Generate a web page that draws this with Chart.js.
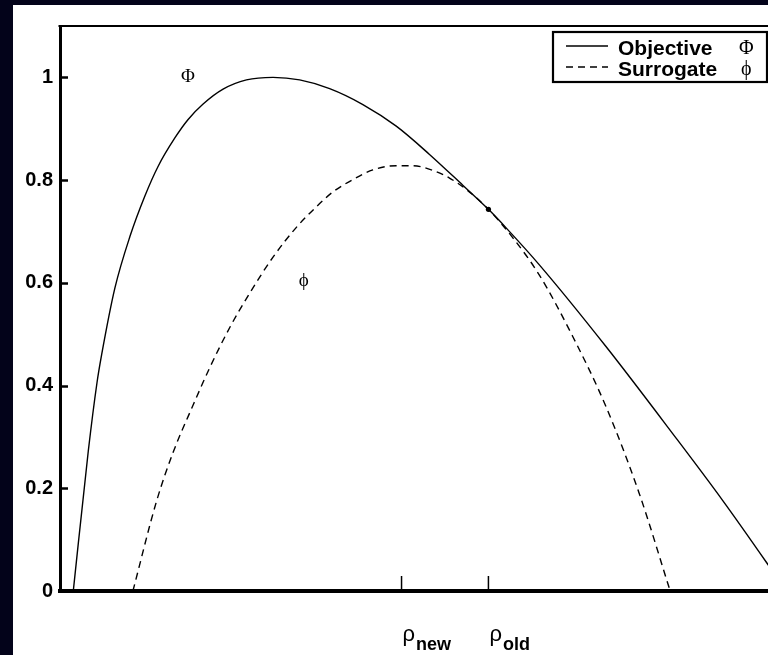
<!DOCTYPE html>
<html><head><meta charset="utf-8">
<script src="https://cdn.jsdelivr.net/npm/chart.js@4"></script>
<style>
html,body{margin:0;padding:0;background:#03031a;overflow:hidden;width:768px;height:655px;}
#wrap{position:absolute;left:13px;top:5px;width:755px;height:650px;background:#fff;overflow:hidden;}
#c{display:block;}
</style></head><body>
<div id="wrap"><canvas id="c" width="800" height="650" style="width:800px;height:650px"></canvas></div>
<script>
// ---- data ----
const objectiveRho = [0.133, 0.283, 0.37, 0.417, 0.55, 0.70, 0.85, 0.983, 1.15, 1.283, 1.433, 1.633, 1.867, 2.133, 2.40, 2.70, 3.033, 3.367, 3.70, 4.033, 4.29, 4.467, 4.80, 5.467, 6.133, 6.633, 7.08, 7.27];
const objectiveVal = [0, 0.272, 0.405, 0.46, 0.590, 0.690, 0.769, 0.827, 0.882, 0.918, 0.948, 0.977, 0.995, 1.0, 0.995, 0.978, 0.947, 0.905, 0.850, 0.790, 0.743, 0.707, 0.635, 0.476, 0.307, 0.177, 0.054, 0];
const surrogateRho = [0.73, 0.967, 1.133, 1.333, 1.50, 1.70, 1.90, 2.133, 2.367, 2.567, 2.733, 2.933, 3.133, 3.367, 3.533, 3.733, 3.90, 4.067, 4.29, 4.533, 4.80, 5.133, 5.467, 5.80, 6.11];
const surrogateVal = [0, 0.175, 0.270, 0.362, 0.435, 0.513, 0.580, 0.650, 0.708, 0.748, 0.777, 0.801, 0.820, 0.828, 0.828, 0.819, 0.804, 0.782, 0.743, 0.688, 0.615, 0.496, 0.359, 0.190, 0];
const touchRho = [4.29];
const touchVal = [0.743];
const xTickValues = [3.42, 4.29];
const xTickMain = ['ρ', 'ρ'];
const xTickSub = ['new', 'old'];
const yTickValues = [0, 0.2, 0.4, 0.6, 0.8, 1];
const legendLabels = ['Objective', 'Surrogate'];
const legendSymbols = ['Φ', 'ϕ'];
const curveLabels = ['Φ', 'ϕ'];
const curveLabelRho = [1.28, 2.44];
const curveLabelVal = [1.0, 0.604];
const xMin = 0, xMax = 7.5, yMin = 0, yMax = 1.1;

const SANS = '"Liberation Sans", Arial, Helvetica, sans-serif';
const SERIF = '"Liberation Serif", "DejaVu Serif", "Times New Roman", serif';

const toPts = (xs, ys) => xs.map((x, i) => ({x: x, y: ys[i]}));

const decorPlugin = {
  id: 'decor',
  afterDraw(chart) {
    const ctx = chart.ctx, a = chart.chartArea;
    const xs = chart.scales.x, ys = chart.scales.y;
    ctx.save();
    ctx.strokeStyle = '#000';
    ctx.fillStyle = '#000';
    // top border of axes box
    ctx.lineWidth = 2;
    ctx.beginPath(); ctx.moveTo(a.left - 1.5, a.top); ctx.lineTo(chart.width, a.top); ctx.stroke();
    // inward y ticks
    ctx.lineWidth = 2.5;
    yTickValues.forEach(v => {
      const y = Math.round(ys.getPixelForValue(v)) + 0.5;
      ctx.beginPath(); ctx.moveTo(a.left, y); ctx.lineTo(a.left + 8, y); ctx.stroke();
    });
    // inward x ticks
    ctx.lineWidth = 1.5;
    xTickValues.forEach(v => {
      const x = xs.getPixelForValue(v);
      ctx.beginPath(); ctx.moveTo(x, a.bottom); ctx.lineTo(x, a.bottom - 15); ctx.stroke();
    });
    // x tick labels with subscripts
    xTickValues.forEach((v, i) => {
      const x = xs.getPixelForValue(v);
      ctx.textAlign = 'left'; ctx.textBaseline = 'alphabetic';
      ctx.font = '22px ' + SANS;
      ctx.fillText(xTickMain[i], x + 1, a.bottom + 50);
      const w = ctx.measureText(xTickMain[i]).width;
      ctx.font = 'bold 18px ' + SANS;
      ctx.fillText(xTickSub[i], x + 1 + w + 1, a.bottom + 59);
    });
    // curve labels
    ctx.textAlign = 'center'; ctx.textBaseline = 'middle';
    ctx.font = '19px ' + SERIF;
    curveLabels.forEach((t, i) => {
      ctx.fillText(t, xs.getPixelForValue(curveLabelRho[i]), ys.getPixelForValue(curveLabelVal[i]));
    });
    // legend
    const L = 540, T = 27, R = 754, B = 77;
    ctx.fillStyle = '#fff';
    ctx.fillRect(L, T, R - L, B - T);
    ctx.strokeStyle = '#000'; ctx.lineWidth = 2.2;
    ctx.strokeRect(L, T, R - L, B - T);
    ctx.fillStyle = '#000';
    const rowY = [41, 62];
    const symX = [726, 728];
    legendLabels.forEach((lab, i) => {
      const ds = chart.data.datasets[i];
      ctx.lineWidth = ds.borderWidth;
      ctx.setLineDash(ds.borderDash || []);
      ctx.beginPath(); ctx.moveTo(553, rowY[i]); ctx.lineTo(595, rowY[i]); ctx.stroke();
      ctx.setLineDash([]);
      ctx.textAlign = 'left'; ctx.textBaseline = 'alphabetic';
      ctx.font = 'bold 21px ' + SANS;
      ctx.fillText(lab, 605, rowY[i] + 9);
      ctx.font = '20px ' + SERIF;
      ctx.fillText(legendSymbols[i], symX[i], rowY[i] + 8);
    });
    ctx.restore();
  }
};

new Chart(document.getElementById('c'), {
  type: 'scatter',
  data: {
    datasets: [
      {label: 'Objective Φ', data: toPts(objectiveRho, objectiveVal), showLine: true, borderColor: '#000', backgroundColor: '#000', borderWidth: 1.4, pointRadius: 0, cubicInterpolationMode: 'monotone'},
      {label: 'Surrogate ϕ', data: toPts(surrogateRho, surrogateVal), showLine: true, borderColor: '#000', backgroundColor: '#000', borderWidth: 1.4, borderDash: [7, 5], pointRadius: 0, cubicInterpolationMode: 'monotone'},
      {label: 'touch', data: toPts(touchRho, touchVal), showLine: false, pointRadius: 2.6, pointBackgroundColor: '#000', pointBorderColor: '#000', pointBorderWidth: 0}
    ]
  },
  options: {
    responsive: false,
    animation: false,
    events: [],
    layout: {padding: {top: 21, right: 3, left: 0, bottom: 0}},
    plugins: {legend: {display: false}, tooltip: {enabled: false}, title: {display: false}},
    scales: {
      x: {
        type: 'linear', min: xMin, max: xMax,
        grid: {display: false, drawTicks: false},
        border: {display: true, color: '#000', width: 4},
        ticks: {display: false},
        afterFit(s) { s.height = 64; }
      },
      y: {
        type: 'linear', min: yMin, max: yMax,
        grid: {display: false, drawTicks: false},
        border: {display: true, color: '#000', width: 3},
        afterBuildTicks(s) { s.ticks = yTickValues.map(v => ({value: v})); },
        ticks: {
          color: '#000', padding: 7,
          font: {family: SANS, size: 20, weight: 'bold'},
          callback: v => String(v)
        },
        afterFit(s) { s.width = 47; }
      }
    }
  },
  plugins: [decorPlugin]
});
</script>
</body></html>
